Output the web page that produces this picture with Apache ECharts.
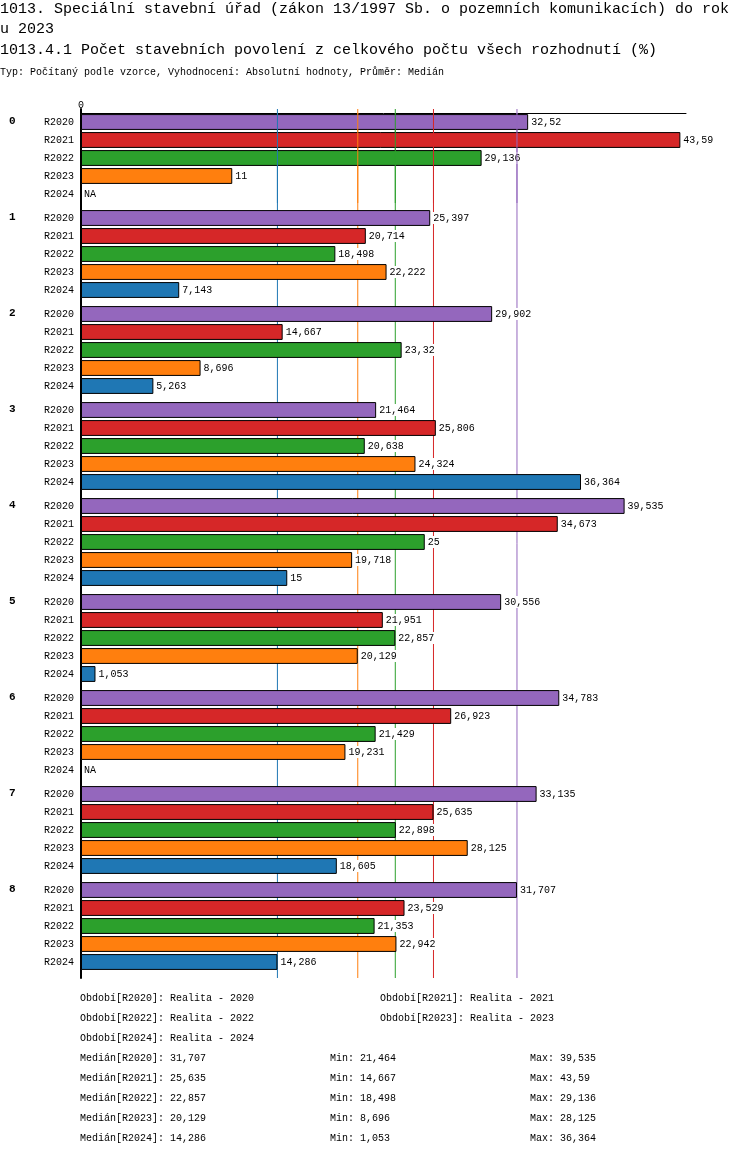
<!DOCTYPE html>
<html>
<head>
<meta charset="utf-8">
<script src="https://cdn.jsdelivr.net/npm/echarts@6/dist/echarts.min.js"></script>
<style>
	html, body { margin: 0; padding: 0; background: #fff; }
	#main { width: 750px; height: 1158px; }
</style>
</head>
<body>
<div id="main"></div>
<script>
var groups = ['0', '1', '2', '3', '4', '5', '6', '7', '8'];
var periods = ['R2020', 'R2021', 'R2022', 'R2023', 'R2024'];
var periodColors = ['#9467bd', '#d62728', '#2ca02c', '#ff7f0e', '#1f77b4'];
var r2020 = [32.52, 25.397, 29.902, 21.464, 39.535, 30.556, 34.783, 33.135, 31.707];
var r2021 = [43.59, 20.714, 14.667, 25.806, 34.673, 21.951, 26.923, 25.635, 23.529];
var r2022 = [29.136, 18.498, 23.32, 20.638, 25, 22.857, 21.429, 22.898, 21.353];
var r2023 = [11, 22.222, 8.696, 24.324, 19.718, 20.129, 19.231, 28.125, 22.942];
var r2024 = [null, 7.143, 5.263, 36.364, 15, 1.053, null, 18.605, 14.286];
var medians = [31.707, 25.635, 22.857, 20.129, 14.286];
var mins = [21.464, 14.667, 18.498, 8.696, 1.053];
var maxs = [39.535, 43.59, 29.136, 28.125, 36.364];
var periodNames = ['Realita - 2020', 'Realita - 2021', 'Realita - 2022', 'Realita - 2023', 'Realita - 2024'];

var mono = '"Liberation Mono", "DejaVu Sans Mono", monospace';
var xMax = 44;
var left = 81, width = 605, top0 = 113, rowH = 18, groupStep = 96;

function fmt(v) {
	return String(v).replace('.', ',');
}

// an axis that draws nothing at all
function hiddenAxis(gridIdx, min, max) {
	return {
		gridIndex: gridIdx, type: 'value', min: min, max: max,
		axisLine: { show: false, onZero: false }, axisTick: { show: false },
		axisLabel: { show: false }, splitLine: { show: false }
	};
}

// vertical median lines as two-point line series on a 0..1 y axis
function medianSeries(axisIdx, z) {
	var out = [];
	for (var m = 0; m < medians.length; m++) {
		out.push({
			type: 'line', xAxisIndex: axisIdx, yAxisIndex: axisIdx, z: z,
			data: [[medians[m], 0], [medians[m], 1]],
			symbol: 'none', silent: true, animation: false,
			lineStyle: { color: periodColors[m], width: 1 }
		});
	}
	return out;
}

var mainChart = echarts.init(document.getElementById('main'));
var series = [], grids = [], xAxes = [], yAxes = [], graphics = [];
var allSeries = [r2020, r2021, r2022, r2023, r2024];

for (var g = 0; g < groups.length; g++) {
	grids.push({ left: left, width: width, top: top0 + groupStep * g, height: rowH * 5 });
	xAxes.push({
		gridIndex: g, type: 'value', min: 0, max: xMax,
		position: 'top',
		axisLine: { show: g === 0, onZero: false, lineStyle: { color: '#000', width: 1 } },
		axisTick: { show: false },
		splitLine: { show: false },
		axisLabel: {
			show: g === 0, margin: 3, color: '#000', fontFamily: mono, fontSize: 10,
			formatter: function (v) { return v === 0 ? '0' : ''; }
		}
	});
	yAxes.push({
		gridIndex: g, type: 'category', data: periods, inverse: true,
		axisLine: { show: false, onZero: false }, axisTick: { show: false },
		axisLabel: { color: '#000', fontFamily: mono, fontSize: 10, margin: 7 }
	});
	var items = [];
	for (var p = 0; p < periods.length; p++) {
		var v = allSeries[p][g];
		if (v === null) {
			items.push({
				value: 0,
				itemStyle: { color: 'rgba(0,0,0,0)', borderWidth: 0 },
				label: { formatter: 'NA' }
			});
		} else {
			items.push({ value: v, itemStyle: { color: periodColors[p] } });
		}
	}
	series.push({
		type: 'bar', xAxisIndex: g, yAxisIndex: g, z: 3,
		barCategoryGap: '12%',
		data: items,
		itemStyle: { borderColor: '#000', borderWidth: 1 },
		label: {
			show: true, position: 'right', distance: 2, color: '#000',
			fontFamily: mono, fontSize: 10,
			backgroundColor: '#fff', padding: [1, 1, 1, 1],
			formatter: function (p) { return fmt(p.value); }
		},
		silent: true, animation: false
	});
	graphics.push({
		type: 'text', left: 9, top: top0 + groupStep * g + 3,
		style: { text: groups[g], fill: '#000', font: 'bold 11px ' + mono }
	});
}

// extra 0..1 y axis on the first group's grid: lines drawn over its bars
xAxes.push(hiddenAxis(0, 0, xMax));
yAxes.push(hiddenAxis(0, 0, 1));
var g0Axis = xAxes.length - 1;

// overall grid: left axis and median lines behind the bars
var gi = groups.length;
grids.push({ left: left, width: width, top: 109, height: 869 });
xAxes.push(hiddenAxis(gi, 0, xMax));
var yAll = hiddenAxis(gi, 0, 1);
yAll.axisLine = { show: true, onZero: false, lineStyle: { color: '#000', width: 2 } };
yAxes.push(yAll);
var allAxis = xAxes.length - 1;

series = series.concat(medianSeries(g0Axis, 6));
series = series.concat(medianSeries(allAxis, 1));

// titles
graphics.push({ type: 'text', left: 0, top: 2, style: { text: '1013. Speciální stavební úřad (zákon 13/1997 Sb. o pozemních komunikacích) do rok', fill: '#000', font: '15px ' + mono } });
graphics.push({ type: 'text', left: 0, top: 22, style: { text: 'u 2023', fill: '#000', font: '15px ' + mono } });
graphics.push({ type: 'text', left: 0, top: 43, style: { text: '1013.4.1 Počet stavebních povolení z celkového počtu všech rozhodnutí (%)', fill: '#000', font: '15px ' + mono } });
graphics.push({ type: 'text', left: 0, top: 67, style: { text: 'Typ: Počítaný podle vzorce, Vyhodnocení: Absolutní hodnoty, Průměr: Medián', fill: '#000', font: '10px ' + mono } });

// footer
var footY = 993;
for (var k = 0; k < periods.length; k++) {
	var col = k % 2, row = Math.floor(k / 2);
	graphics.push({
		type: 'text', left: col ? 380 : 80, top: footY + row * 20,
		style: { text: 'Období[' + periods[k] + ']: ' + periodNames[k], fill: '#000', font: '10px ' + mono }
	});
}
for (var k = 0; k < periods.length; k++) {
	var y = footY + 60 + k * 20;
	graphics.push({ type: 'text', left: 80, top: y, style: { text: 'Medián[' + periods[k] + ']: ' + fmt(medians[k]), fill: '#000', font: '10px ' + mono } });
	graphics.push({ type: 'text', left: 330, top: y, style: { text: 'Min: ' + fmt(mins[k]), fill: '#000', font: '10px ' + mono } });
	graphics.push({ type: 'text', left: 530, top: y, style: { text: 'Max: ' + fmt(maxs[k]), fill: '#000', font: '10px ' + mono } });
}

var chartOpt = {
	backgroundColor: '#fff',
	animation: false,
	grid: grids,
	xAxis: xAxes,
	yAxis: yAxes,
	series: series,
	graphic: graphics
};
mainChart.setOption(chartOpt);
</script>
</body>
</html>
